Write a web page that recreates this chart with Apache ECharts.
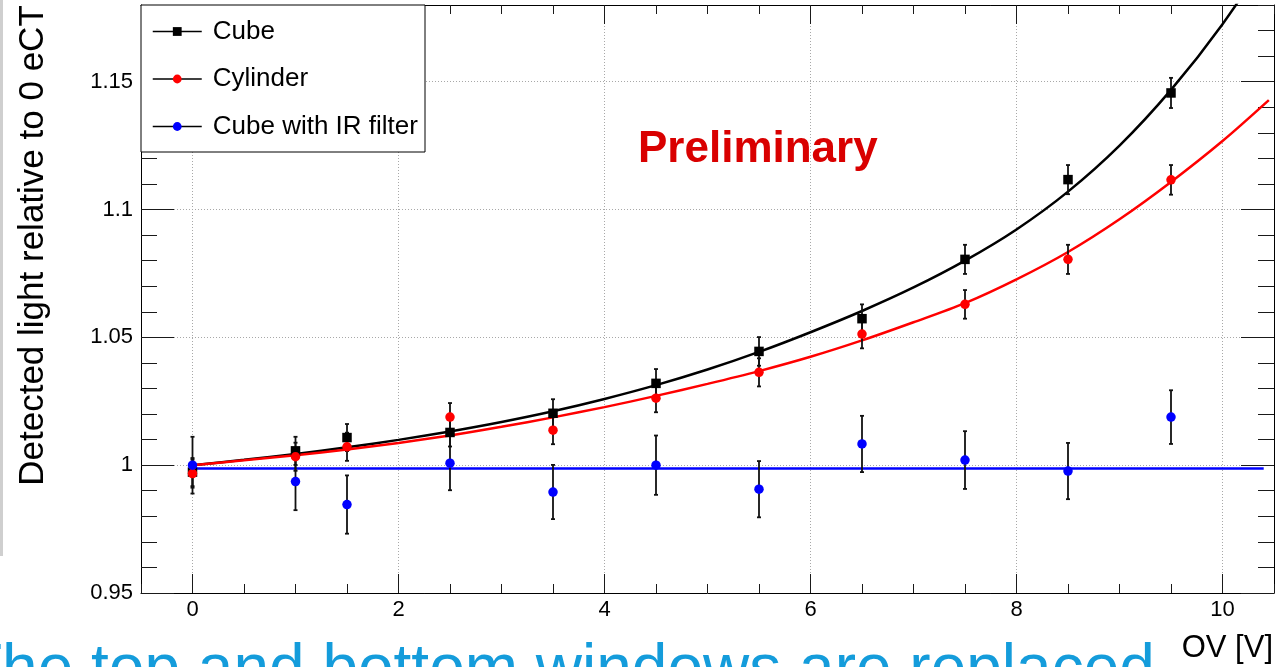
<!DOCTYPE html>
<html>
<head>
<meta charset="utf-8">
<script src="https://cdn.jsdelivr.net/npm/echarts@6/dist/echarts.min.js"></script>
<style>
  html, body { margin: 0; padding: 0; background: #fff; }
  #chart { width: 1282px; height: 667px; }
</style>
</head>
<body>
<div id="chart"></div>
<script>
// Over-voltage points where light output was measured
const ovValues = [0, 1, 1.5, 2.5, 3.5, 4.5, 5.5, 6.5, 7.5, 8.5, 9.5];

// Detected light relative to 0 eCT, with uncertainties
const cubeLight = [0.9973, 1.0056, 1.0108, 1.0128, 1.0203, 1.0320, 1.0445, 1.0573, 1.0805, 1.1117, 1.1456];
const cubeErr = [0.0055, 0.0055, 0.0053, 0.0055, 0.0055, 0.0056, 0.0056, 0.0056, 0.0057, 0.0057, 0.0059];
const cylinderLight = [0.9967, 1.0033, 1.0072, 1.0188, 1.0137, 1.0262, 1.0363, 1.0513, 1.0629, 1.0805, 1.1116];
const cylinderErr = [0.0055, 0.0055, 0.0055, 0.0055, 0.0055, 0.0055, 0.0055, 0.0056, 0.0056, 0.0057, 0.0058];
const irLight = [1.0000, 0.9936, 0.9846, 1.0008, 0.9895, 1.0000, 0.9906, 1.0083, 1.0020, 0.9977, 1.0188];
const irErr = [0.0111, 0.0112, 0.0114, 0.0106, 0.0106, 0.0116, 0.0110, 0.0110, 0.0113, 0.0110, 0.0105];

// Fitted curves
const fitOV = [0, 0.5, 1, 1.5, 2, 2.5, 3, 3.5, 4, 4.5, 5, 5.5, 6, 6.5, 7, 7.5, 8, 8.5, 9, 9.5, 10, 10.5];
const cubeFit = [1.0000, 1.0021, 1.0044, 1.0070, 1.0099, 1.0132, 1.0169, 1.0211, 1.0259, 1.0313, 1.0374,
                 1.0443, 1.0520, 1.0603, 1.0695, 1.0800, 1.0922, 1.1070, 1.1250, 1.1468, 1.1725, 1.2025];
const cylinderFitOV = [0, 0.5, 1, 1.5, 2, 2.5, 3, 3.5, 4, 4.5, 5, 5.5, 6, 6.5, 7, 7.5, 8, 8.5, 9, 9.5, 10, 10.45];
const cylinderFit = [1.0000, 1.0019, 1.0039, 1.0061, 1.0087, 1.0116, 1.0150, 1.0187, 1.0227, 1.0271, 1.0318,
                     1.0368, 1.0424, 1.0488, 1.0559, 1.0634, 1.0727, 1.0834, 1.0962, 1.1108, 1.1268, 1.1428];
const irFitOV = [0, 10.4];
const irFit = [0.9987, 0.9987];

// Axis ticks
const xMajorTicks = [0, 2, 4, 6, 8, 10];
const yMajorTicks = [0.95, 1, 1.05, 1.1, 1.15];

const legendNames = ['Cube', 'Cylinder', 'Cube with IR filter'];

const FONT = '"Liberation Sans", Arial, Helvetica, sans-serif';
const TICK_COLOR = '#1a1a1a';
const GRID_LINE = { color: '#a8a8a8', type: [1, 2], width: 1 };

function isMajorX(v) {
  return v >= -1e-9 && v <= 10 + 1e-9 && Math.abs(v / 2 - Math.round(v / 2)) < 1e-6;
}
function isMajorY(v) {
  return v <= 1.15 + 1e-9 && Math.abs(v * 20 - Math.round(v * 20)) < 1e-6;
}

function pairs(xs, ys) { return xs.map((x, i) => [x, ys[i]]); }
function triples(xs, ys, es) { return xs.map((x, i) => [x, ys[i], es[i]]); }

// Vertical error bar with small end caps
function errorBar(params, api) {
  const x = api.value(0), y = api.value(1), e = api.value(2);
  const top = api.coord([x, y + e]);
  const bot = api.coord([x, y - e]);
  const cap = 2;
  const style = { stroke: '#111', lineWidth: 1.8 };
  return {
    type: 'group',
    children: [
      { type: 'line', shape: { x1: top[0], y1: top[1], x2: bot[0], y2: bot[1] }, style },
      { type: 'line', shape: { x1: top[0] - cap, y1: top[1], x2: top[0] + cap, y2: top[1] }, style },
      { type: 'line', shape: { x1: bot[0] - cap, y1: bot[1], x2: bot[0] + cap, y2: bot[1] }, style }
    ]
  };
}

function xAxisDef(position, major, withLine, withLabels) {
  const ax = {
    type: 'value', position, min: -0.5, max: 10.5,
    axisLine: { show: withLine, onZero: false, lineStyle: { color: '#000', width: 1 } },
    axisTick: { show: true, inside: true, length: major ? 19 : 9, lineStyle: { color: TICK_COLOR, width: 1 } },
    axisLabel: { show: false },
    splitLine: { show: false }
  };
  if (major) {
    ax.axisTick.customValues = xMajorTicks;
    ax.axisLabel.customValues = xMajorTicks;
    if (position === 'bottom') ax.splitLine = { show: true, lineStyle: GRID_LINE };
  } else {
    ax.interval = 0.5;
  }
  if (withLabels) {
    ax.axisLabel = {
      show: true, margin: 6, fontSize: 22, fontFamily: FONT, color: '#000',
      formatter: v => (isMajorX(v) ? String(Math.round(v)) : '')
    };
  }
  return ax;
}

function yAxisDef(position, major, withLine, withLabels) {
  const ax = {
    type: 'value', position, min: 0.95, max: 1.18,
    axisLine: { show: withLine, onZero: false, lineStyle: { color: '#000', width: 1 } },
    axisTick: { show: true, inside: true, length: major ? 33 : 16, lineStyle: { color: TICK_COLOR, width: 1 } },
    axisLabel: { show: false },
    splitLine: { show: false }
  };
  if (major) {
    ax.interval = 0.05;
    ax.axisTick.customValues = yMajorTicks;
    ax.axisLabel.customValues = yMajorTicks;
    if (position === 'left') ax.splitLine = { show: true, lineStyle: GRID_LINE };
  } else {
    ax.interval = 0.01;
  }
  if (withLabels) {
    ax.axisLabel = {
      show: true, margin: 8, fontSize: 22, fontFamily: FONT, color: '#000',
      formatter: v => (isMajorY(v) ? String(+v.toFixed(2)) : '')
    };
  }
  return ax;
}

const chart = echarts.init(document.getElementById('chart'), null, { renderer: 'canvas' });

chart.setOption({
  animation: false,
  backgroundColor: '#fff',
  grid: { left: 141, right: 8, top: 5, bottom: 74, containLabel: false },
  xAxis: [
    xAxisDef('bottom', false, true, true),
    xAxisDef('bottom', true, false, false),
    xAxisDef('top', false, true, false),
    xAxisDef('top', true, false, false)
  ],
  yAxis: [
    yAxisDef('left', false, true, true),
    yAxisDef('left', true, false, false),
    yAxisDef('right', false, true, false),
    yAxisDef('right', true, false, false)
  ],
  legend: {
    data: legendNames.map(n => ({ name: n })),
    orient: 'vertical', left: 152, top: 16.5, padding: 0,
    itemWidth: 49, itemHeight: 11, itemGap: 17.5,
    lineStyle: { color: '#000', width: 1.5, opacity: 1, type: 'solid' },
    textStyle: { fontFamily: FONT, fontSize: 26, color: '#000', lineHeight: 30, padding: [0, 0, 0, 6] },
    selectedMode: false,
    z: 11
  },
  graphic: [
    { type: 'rect', shape: { x: 0, y: 0, width: 3, height: 556 }, style: { fill: '#cfcfcf' }, z: 1, silent: true },
    { type: 'rect', shape: { x: 141, y: 5, width: 284, height: 147 }, style: { fill: '#fff', stroke: '#000', lineWidth: 1 }, z: 10, silent: true },
    {
      type: 'text', x: 638, y: 150, z: 10, silent: true,
      style: { text: 'Preliminary', font: 'bold 44px ' + FONT, fill: '#d90000',
               align: 'left', verticalAlign: 'middle', textAlign: 'left', textVerticalAlign: 'middle' }
    },
    {
      type: 'text', x: 33, y: 245.5, rotation: Math.PI / 2, z: 10, silent: true,
      style: { text: 'Detected light relative to 0 eCT', font: '35px ' + FONT, fill: '#000',
               align: 'center', verticalAlign: 'middle', textAlign: 'center', textVerticalAlign: 'middle' }
    },
    {
      type: 'text', x: 1273, y: 648, z: 10, silent: true,
      style: { text: 'OV [V]', font: '31px ' + FONT, fill: '#000',
               align: 'right', verticalAlign: 'middle', textAlign: 'right', textVerticalAlign: 'middle' }
    },
    {
      type: 'text', x: -37, y: 671, z: 10, silent: true,
      style: { text: 'The top and bottom windows are replaced', font: '64px ' + FONT, fill: '#149cdb',
               align: 'left', verticalAlign: 'middle', textAlign: 'left', textVerticalAlign: 'middle' }
    }
  ],
  series: [
    // fitted curves
    { name: 'Cube fit', type: 'line', data: pairs(fitOV, cubeFit), showSymbol: false, smooth: 0.3,
      lineStyle: { color: '#000', width: 2.5 }, z: 2, silent: true, clip: true },
    { name: 'Cylinder fit', type: 'line', data: pairs(cylinderFitOV, cylinderFit), showSymbol: false, smooth: 0.3,
      lineStyle: { color: '#ff0000', width: 2.5 }, z: 2, silent: true, clip: true },
    { name: 'IR fit', type: 'line', data: pairs(irFitOV, irFit), showSymbol: false,
      lineStyle: { color: '#0000ff', width: 2.5 }, z: 2, silent: true, clip: true },
    // uncertainties
    { name: 'Cube err', type: 'custom', renderItem: errorBar, data: triples(ovValues, cubeLight, cubeErr),
      encode: { x: 0, y: 1 }, z: 3, silent: true, clip: true },
    { name: 'Cylinder err', type: 'custom', renderItem: errorBar, data: triples(ovValues, cylinderLight, cylinderErr),
      encode: { x: 0, y: 1 }, z: 3, silent: true, clip: true },
    { name: 'IR err', type: 'custom', renderItem: errorBar, data: triples(ovValues, irLight, irErr),
      encode: { x: 0, y: 1 }, z: 3, silent: true, clip: true },
    // measured points
    { name: legendNames[0], type: 'line', data: pairs(ovValues, cubeLight), symbol: 'rect', symbolSize: 9.5,
      showAllSymbol: true, lineStyle: { width: 0, opacity: 0 }, itemStyle: { color: '#000' }, z: 4, silent: true },
    { name: legendNames[1], type: 'line', data: pairs(ovValues, cylinderLight), symbol: 'circle', symbolSize: 9.5,
      showAllSymbol: true, lineStyle: { width: 0, opacity: 0 }, itemStyle: { color: '#ff0000' }, z: 4, silent: true },
    { name: legendNames[2], type: 'line', data: pairs(ovValues, irLight), symbol: 'circle', symbolSize: 9.5,
      showAllSymbol: true, lineStyle: { width: 0, opacity: 0 }, itemStyle: { color: '#0000ff' }, z: 4, silent: true }
  ]
});
</script>
</body>
</html>
